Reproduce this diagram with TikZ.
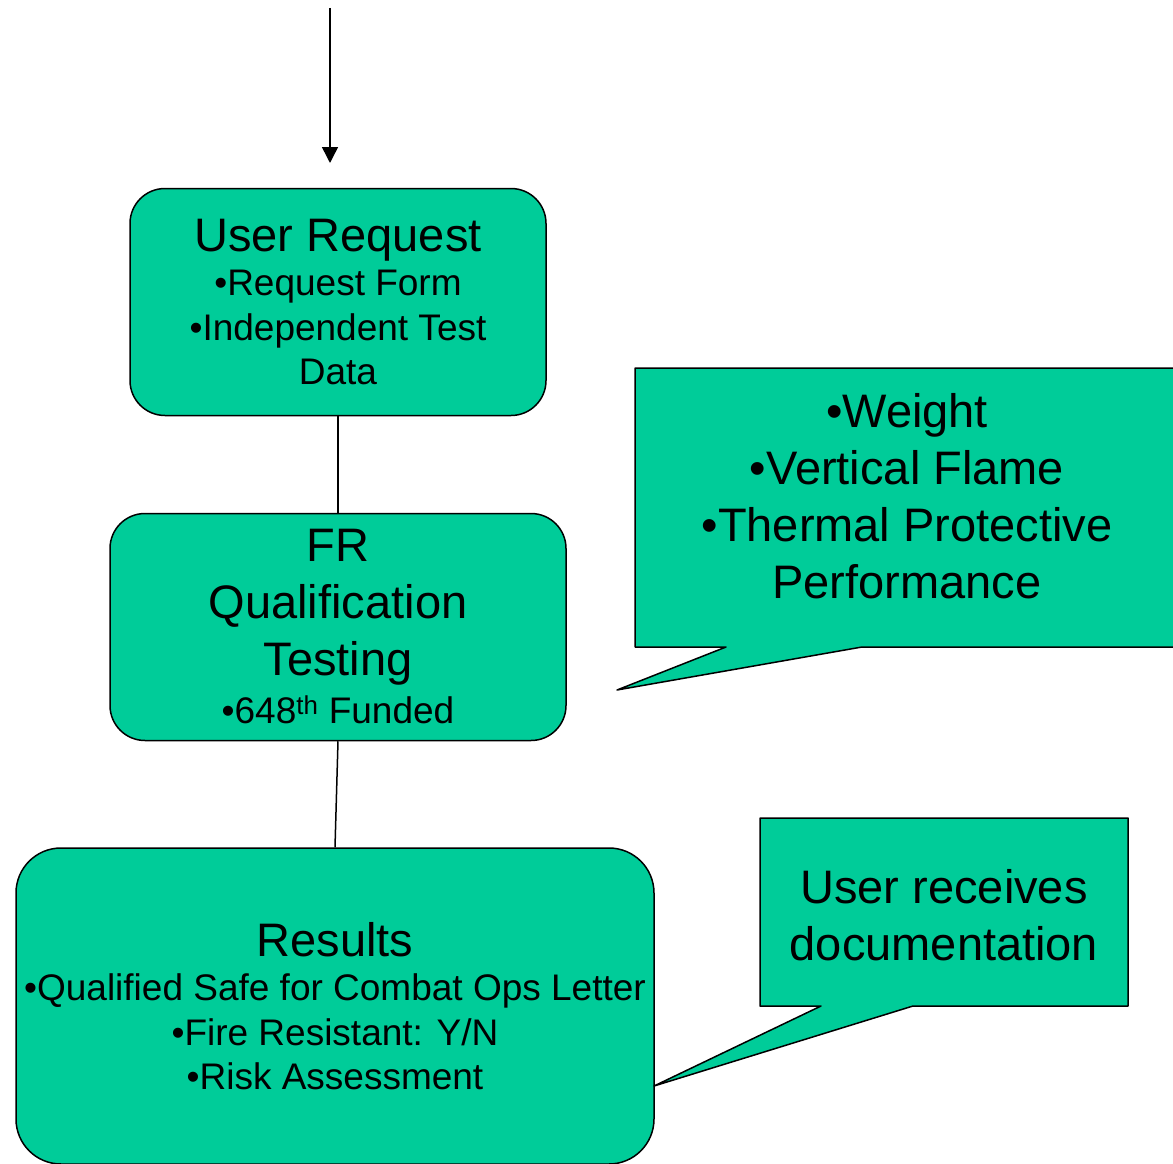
\documentclass[tikz,border=0pt]{standalone}
\usepackage{fontspec}
\setmainfont{Liberation Sans}
\usetikzlibrary{arrows.meta}
\definecolor{boxgreen}{RGB}{0,204,153}
\newcommand{\bigfont}{\fontsize{47}{57}\selectfont}
\newcommand{\smallfont}{\fontsize{37}{44.4}\selectfont}

\begin{document}
\begin{tikzpicture}[x=1pt,y=-1pt]
        \tikzstyle{every node}=[inner sep=0pt, align=center]
        \tikzstyle{stage}=[draw, fill=boxgreen, line width=1.5pt, rounded corners=35pt, font=\smallfont]
        \tikzstyle{callout}=[draw, fill=boxgreen, line width=1.5pt, line join=round]
        \tikzstyle{link}=[line width=1.5pt]
        \useasboundingbox (0,0) rectangle (1173,1164);
        \coordinate (feed) at (330,8);
        \coordinate (feedend) at (330,163);
        \draw[link, -{Triangle[length=16pt,width=16pt]}] (feed) -- (feedend);
        \node[stage, minimum width=416pt, minimum height=227pt] (request) at (338,302) {{\bigfont User Request}\\•Request Form\\•Independent Test\\Data};
        \node[stage, minimum width=456pt, minimum height=227pt, font=\bigfont] (fr) at (338,627) {FR\\Qualification\\Testing\\[-9pt]{\smallfont •648\textsuperscript{th} Funded}};
        \node[stage, rounded corners=45pt, minimum width=638pt, minimum height=316pt] (results) at (335,1006) {{\bigfont Results}\\•Qualified Safe for Combat Ops Letter\\•Fire Resistant: Y/N\\•Risk Assessment};
        \draw[link] (request) -- (fr);
        \draw[link] (fr.south) -- (results.north);
        \draw[callout] (635,368) -- (1180,368) -- (1180,647) -- (862,647) -- (617,690) -- (726,647) -- (635,647) -- cycle;
        \node[font=\bigfont] (tests) at (907,496.5) {•Weight\\•Vertical Flame\\•Thermal Protective\\Performance};
        \draw[callout] (760,818) -- (1128,818) -- (1128,1006) -- (913,1006) -- (654,1086) -- (821,1006) -- (760,1006) -- cycle;
        \node[font=\bigfont] (docs) at (944,915) {User receives\\documentation};
    \end{tikzpicture}
\end{document}
